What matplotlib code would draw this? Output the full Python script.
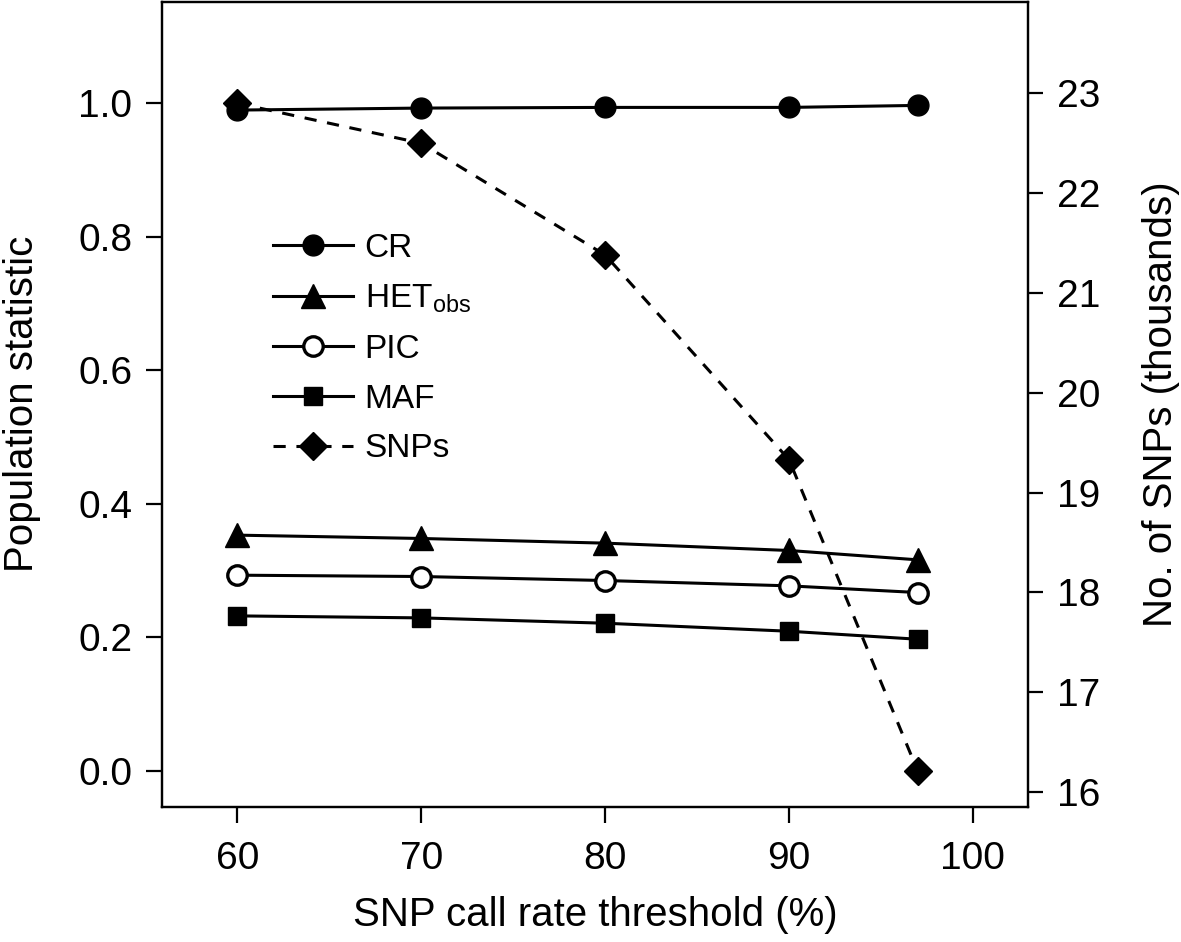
import matplotlib
matplotlib.use("Agg")
import matplotlib.pyplot as plt

plt.rcParams['font.family'] = ['Liberation Sans', 'DejaVu Sans']
plt.rcParams['mathtext.fontset'] = 'custom'
plt.rcParams['mathtext.rm'] = 'Liberation Sans'

# SNP call rate thresholds (%)
threshold = [60, 70, 80, 90, 97]

# population statistics (left axis)
cr = [0.990, 0.993, 0.994, 0.994, 0.997]
het_obs = [0.353, 0.348, 0.341, 0.330, 0.316]
pic = [0.293, 0.291, 0.285, 0.277, 0.267]
maf = [0.232, 0.229, 0.221, 0.209, 0.197]

# number of SNPs in thousands (right axis)
snps = [22.90, 22.50, 21.38, 19.33, 16.21]

x_ticks = [60, 70, 80, 90, 100]
left_ticks = [0.0, 0.2, 0.4, 0.6, 0.8, 1.0]
right_ticks = [16, 17, 18, 19, 20, 21, 22, 23]

fig = plt.figure(figsize=(11.81, 9.42), dpi=100)
ax = fig.add_axes([0.1372, 0.1436, 0.7333, 0.8543])
ax2 = ax.twinx()

lw = 2.2
h1, = ax.plot(threshold, cr, '-o', color='black', lw=lw, ms=15, label='CR')
h2, = ax.plot(threshold, het_obs, '-^', color='black', lw=lw, ms=17,
              label=r'HET$_{\mathrm{obs}}$')
h3, = ax.plot(threshold, pic, '-o', color='black', lw=lw, ms=14,
              mfc='white', mew=2.4, label='PIC')
h4, = ax.plot(threshold, maf, '-s', color='black', lw=lw, ms=12.5, label='MAF')
h5, = ax2.plot(threshold, snps, '--D', color='black', lw=lw, ms=14,
               dashes=(4, 3.5), label='SNPs')

ax.set_xlim(55.9, 103.0)
ax.set_ylim(-0.054, 1.152)
ax2.set_ylim(15.853, 23.915)

ax.set_xticks(x_ticks)
ax.set_yticks(left_ticks)
ax.set_yticklabels(['%.1f' % v for v in left_ticks])
ax2.set_yticks(right_ticks)

for a in (ax, ax2):
    for s in a.spines.values():
        s.set_linewidth(1.6)
ax.tick_params(axis='both', direction='out', length=11.5, width=1.6,
               labelsize=28)
ax.tick_params(axis='x', pad=13)
ax.tick_params(axis='y', pad=10)
ax2.tick_params(axis='y', direction='out', length=11, width=1.6,
                labelsize=28, pad=10)

ax.set_xlabel('SNP call rate threshold (%)', fontsize=29, va='center')
ax.xaxis.set_label_coords(0.5, -0.1346)
ax.set_ylabel('Population statistic', fontsize=29, va='center')
ax.yaxis.set_label_coords(-0.162, 0.5)
ax2.set_ylabel('No. of SNPs (thousands)', fontsize=29, va='center')
ax2.yaxis.set_label_coords(1.154, 0.5)

ax2.legend(handles=[h1, h2, h3, h4, h5], loc='upper left',
           bbox_to_anchor=(0.128, 0.713), frameon=False, fontsize=24,
           borderpad=0, borderaxespad=0, handlelength=2.4,
           handletextpad=0.35, labelspacing=0.56)

fig.savefig('out.png', dpi=100)
